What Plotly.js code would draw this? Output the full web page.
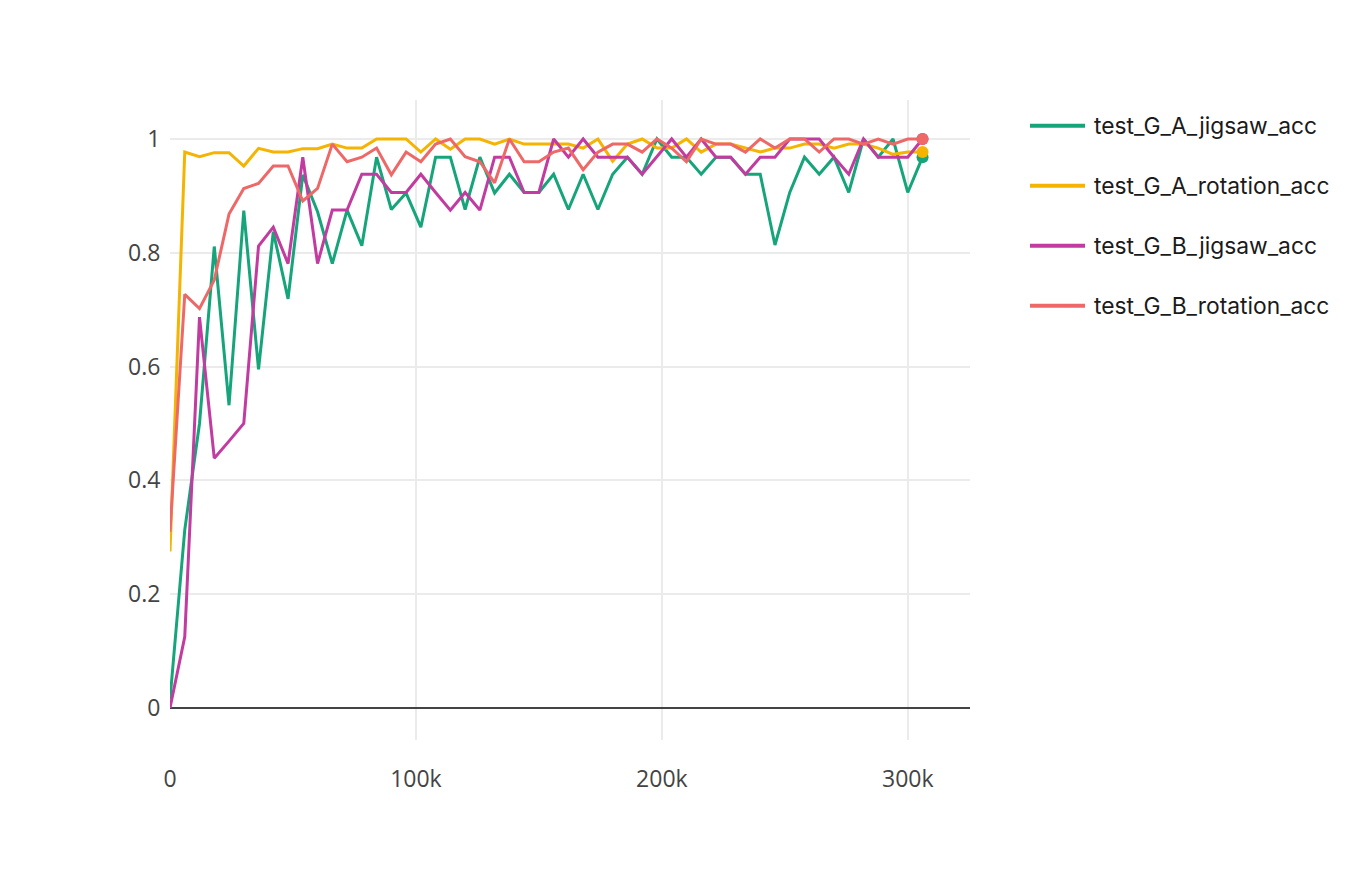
<!DOCTYPE html>
<html>
<head>
<meta charset="utf-8">
<script src="https://cdn.plot.ly/plotly-3.0.1.min.js"></script>
<style>html,body{margin:0;padding:0;background:#fff;}#chart{width:1366px;height:896px;}</style>
</head>
<body>
<div id="chart"></div>
<script>
// Evaluation steps
const steps = [0, 6000, 12000, 18000, 24000, 30000, 36000, 42000, 48000, 54000,
  60000, 66000, 72000, 78000, 84000, 90000, 96000, 102000, 108000, 114000,
  120000, 126000, 132000, 138000, 144000, 150000, 156000, 162000, 168000, 174000,
  180000, 186000, 192000, 198000, 204000, 210000, 216000, 222000, 228000, 234000,
  240000, 246000, 252000, 258000, 264000, 270000, 276000, 282000, 288000, 294000,
  300000, 306000];

const seriesNames = ["test_G_A_jigsaw_acc", "test_G_A_rotation_acc", "test_G_B_jigsaw_acc", "test_G_B_rotation_acc"];

const testGAJigsaw = [0.015, 0.313, 0.5, 0.811, 0.532, 0.874, 0.595, 0.837, 0.719, 0.937,
  0.872, 0.781, 0.875, 0.8125, 0.968, 0.876, 0.905, 0.845, 0.968, 0.968,
  0.876, 0.968, 0.905, 0.938, 0.906, 0.906, 0.938, 0.876, 0.938, 0.876,
  0.938, 0.968, 0.938, 1.0, 0.968, 0.968, 0.938, 0.968, 0.968, 0.938,
  0.938, 0.8137, 0.906, 0.968, 0.938, 0.968, 0.906, 1.0, 0.968, 1.0,
  0.906, 0.968];

const testGARotation = [0.275, 0.977, 0.969, 0.976, 0.976, 0.9525, 0.9835, 0.977, 0.977, 0.983,
  0.983, 0.991, 0.984, 0.984, 1.0, 1.0, 1.0, 0.977, 1.0, 0.982,
  1.0, 1.0, 0.991, 1.0, 0.991, 0.991, 0.991, 0.991, 0.984, 1.0,
  0.961, 0.991, 1.0, 0.984, 0.984, 1.0, 0.977, 0.991, 0.991, 0.984,
  0.977, 0.984, 0.984, 0.991, 0.991, 0.984, 0.991, 0.991, 0.984, 0.973,
  0.977, 0.977];

const testGBJigsaw = [0, 0.125, 0.687, 0.439, 0.469, 0.5, 0.812, 0.845, 0.781, 0.968,
  0.781, 0.875, 0.875, 0.938, 0.938, 0.906, 0.906, 0.938, 0.906, 0.875,
  0.906, 0.875, 0.968, 0.968, 0.906, 0.906, 1.0, 0.968, 1.0, 0.968,
  0.968, 0.968, 0.938, 0.968, 1.0, 0.968, 1.0, 0.968, 0.968, 0.938,
  0.968, 0.968, 1.0, 1.0, 1.0, 0.968, 0.938, 1.0, 0.968, 0.968,
  0.968, 1.0];

const testGBRotation = [0.31, 0.727, 0.702, 0.752, 0.868, 0.913, 0.922, 0.9525, 0.9525, 0.891,
  0.913, 0.991, 0.960, 0.968, 0.984, 0.937, 0.977, 0.96, 0.991, 1.0,
  0.969, 0.96, 0.923, 1.0, 0.96, 0.96, 0.977, 0.984, 0.946, 0.977,
  0.991, 0.991, 0.977, 1.0, 0.984, 0.96, 1.0, 0.991, 0.991, 0.977,
  1.0, 0.984, 1.0, 1.0, 0.977, 1.0, 1.0, 0.991, 1.0, 0.991,
  1.0, 1.0];

const colors = ["#16a57a", "#f4b400", "#c23ba0", "#ee6868"];
const allSeries = [testGAJigsaw, testGARotation, testGBJigsaw, testGBRotation];

const traces = [];
allSeries.forEach((ys, i) => {
  traces.push({
    x: steps, y: ys, type: "scatter", mode: "lines", name: seriesNames[i],
    line: {color: colors[i], width: 3}, showlegend: false, hoverinfo: "x+y+name"
  });
});
// end-point markers
[0, 1, 2, 3].forEach(i => {
  const ys = allSeries[i];
  traces.push({
    x: [steps[steps.length - 1]], y: [ys[ys.length - 1]], type: "scatter", mode: "markers",
    marker: {color: colors[i], size: 12}, showlegend: false, hoverinfo: "skip"
  });
});

// custom legend (drawn in paper coordinates)
const legendY = [0.9598, 0.8661, 0.7723, 0.6786];
const shapes = [];
const annotations = [];
seriesNames.forEach((n, i) => {
  shapes.push({type: "line", xref: "paper", yref: "paper", x0: 1.075, x1: 1.14375,
    y0: legendY[i], y1: legendY[i], line: {color: colors[i], width: 4}});
  annotations.push({xref: "paper", yref: "paper", x: 1.152, y: legendY[i], xanchor: "left", yanchor: "middle",
    text: n, showarrow: false, font: {family: "Inter, Roboto, sans-serif", size: 22.8, color: "#1a1a1a"}});
});

const tickFont = {family: "'Open Sans', sans-serif", size: 23, color: "#444"};

const layout = {
  width: 1366, height: 896,
  margin: {l: 170, r: 396, t: 100, b: 156, pad: 0},
  paper_bgcolor: "#ffffff", plot_bgcolor: "#ffffff",
  font: {family: "'Open Sans', sans-serif", size: 20, color: "#444"},
  showlegend: false,
  xaxis: {
    range: [0, 325300], tickvals: [0, 100000, 200000, 300000], ticktext: ["0", "100k", "200k", "300k"],
    showgrid: true, gridcolor: "#ebebeb", gridwidth: 2, zeroline: false, showline: false,
    ticks: "outside", ticklen: 18, tickcolor: "rgba(0,0,0,0)",
    tickfont: tickFont
  },
  yaxis: {
    range: [-0.0563, 1.0685], tickvals: [0, 0.2, 0.4, 0.6, 0.8, 1], ticktext: ["0", "0.2", "0.4", "0.6", "0.8", "1"],
    showgrid: true, gridcolor: "#ebebeb", gridwidth: 2, zeroline: true, zerolinecolor: "#444", zerolinewidth: 2,
    showline: false, ticks: "outside", ticklen: 4, tickcolor: "rgba(0,0,0,0)",
    tickfont: tickFont
  },
  shapes: shapes,
  annotations: annotations
};

Plotly.newPlot("chart", traces, layout, {displayModeBar: false, staticPlot: true});
</script>
</body>
</html>
